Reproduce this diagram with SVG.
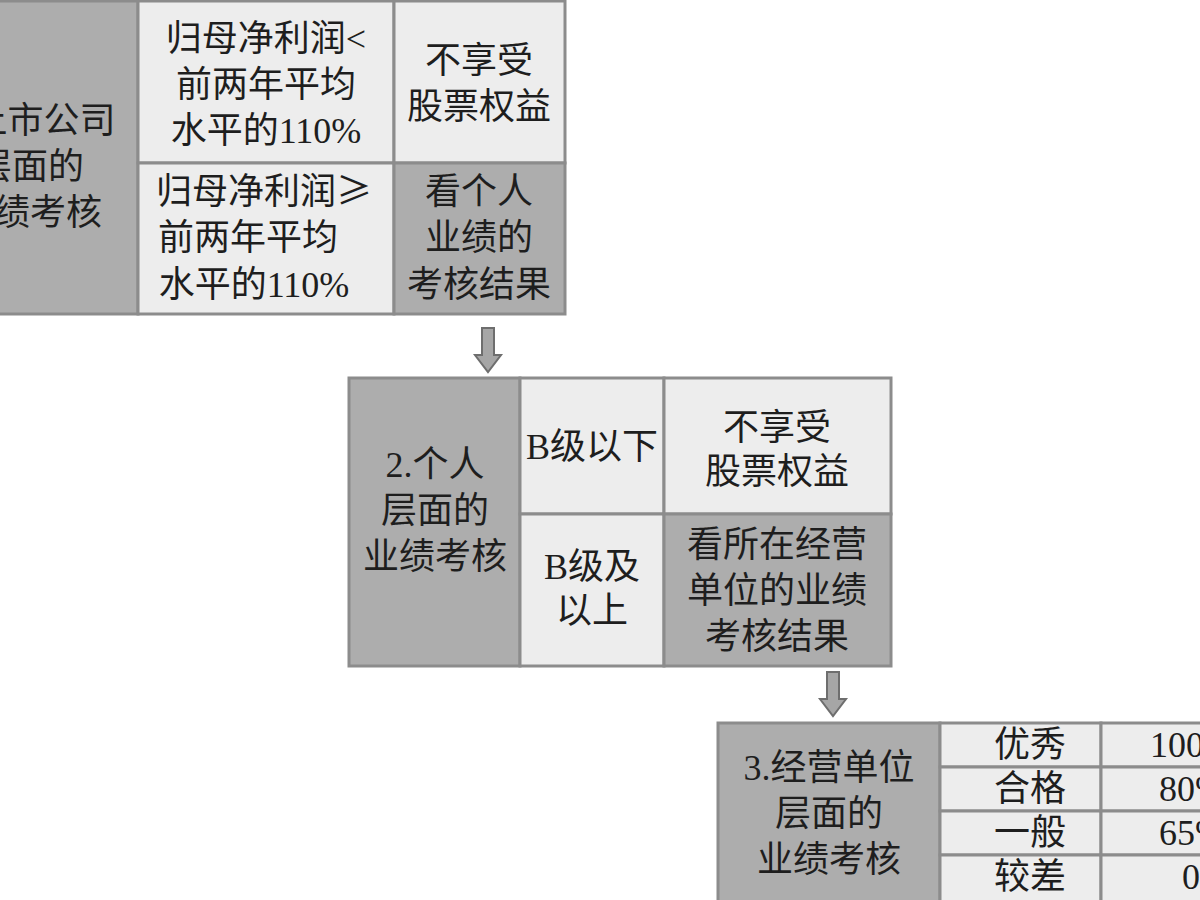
<svg xmlns="http://www.w3.org/2000/svg" width="1200" height="900" viewBox="0 0 1200 900">
<style>
.dk{fill:#adadad;stroke:#8c8c8c;stroke-width:3}
.lt{fill:#ededed;stroke:#8c8c8c;stroke-width:3}
text{font-family:"Liberation Serif","Noto Sans CJK SC",serif;font-size:36px;fill:#1e1e1e;text-anchor:middle}
.cjk{font-family:"Noto Sans CJK SC",sans-serif}
.ar{fill:#a6a6a6;stroke:#6e6e6e;stroke-width:2}
</style>
<rect width="1200" height="900" fill="#ffffff"/>
<g id="box1">
<rect class="dk" x="-80" y="1" width="218" height="313"/>
<rect class="lt" x="138" y="1" width="256" height="162"/>
<rect class="lt" x="138" y="163" width="256" height="151"/>
<rect class="lt" x="394" y="1" width="171" height="162"/>
<rect class="dk" x="394" y="163" width="171" height="151"/>
<text x="30" y="133">1.上市公司</text>
<text x="30" y="179">层面的</text>
<text x="30" y="225">业绩考核</text>
<text x="266" y="51">归母净利润&lt;</text>
<text x="266" y="97">前两年平均</text>
<text x="266" y="143">水平的110%</text>
<text x="264" y="204">归母净利润<tspan class="cjk">≥</tspan></text>
<text x="248" y="250">前两年平均</text>
<text x="254" y="297">水平的110%</text>
<text x="479" y="73">不享受</text>
<text x="479" y="119">股票权益</text>
<text x="479" y="204">看个人</text>
<text x="479" y="250">业绩的</text>
<text x="479" y="297">考核结果</text>
</g>
<g id="box2">
<rect class="dk" x="349" y="378" width="171" height="288"/>
<rect class="lt" x="520" y="378" width="144" height="136"/>
<rect class="lt" x="520" y="514" width="144" height="152"/>
<rect class="lt" x="664" y="378" width="227" height="136"/>
<rect class="dk" x="664" y="514" width="227" height="152"/>
<text x="435" y="477">2.个人</text>
<text x="435" y="523">层面的</text>
<text x="435" y="569">业绩考核</text>
<text x="592" y="459">B级以下</text>
<text x="592" y="579">B级及</text>
<text x="592" y="623">以上</text>
<text x="777" y="440">不享受</text>
<text x="777" y="484">股票权益</text>
<text x="777" y="557">看所在经营</text>
<text x="777" y="603">单位的业绩</text>
<text x="777" y="649">考核结果</text>
</g>
<g id="box3">
<rect class="dk" x="718" y="723" width="222" height="180"/>
<rect class="lt" x="940" y="723" width="161" height="44"/>
<rect class="lt" x="940" y="767" width="161" height="44"/>
<rect class="lt" x="940" y="811" width="161" height="44"/>
<rect class="lt" x="940" y="855" width="161" height="48"/>
<rect class="lt" x="1101" y="723" width="180" height="44"/>
<rect class="lt" x="1101" y="767" width="180" height="44"/>
<rect class="lt" x="1101" y="811" width="180" height="44"/>
<rect class="lt" x="1101" y="855" width="180" height="48"/>
<text x="829" y="780">3.经营单位</text>
<text x="829" y="826">层面的</text>
<text x="829" y="872">业绩考核</text>
<text x="1030" y="757">优秀</text>
<text x="1030" y="801">合格</text>
<text x="1030" y="845">一般</text>
<text x="1030" y="889">较差</text>
<text x="1192" y="757">100%</text>
<text x="1192" y="801">80%</text>
<text x="1192" y="845">65%</text>
<text x="1191" y="889">0</text>
</g>
<g id="connectors">
<path class="ar" d="M482,328 H494 V355 H501 L488,372 L475,355 H482 Z"/>
<path class="ar" d="M827,672 H839 V699 H846 L833,716 L820,699 H827 Z"/>
</g>
</svg>
